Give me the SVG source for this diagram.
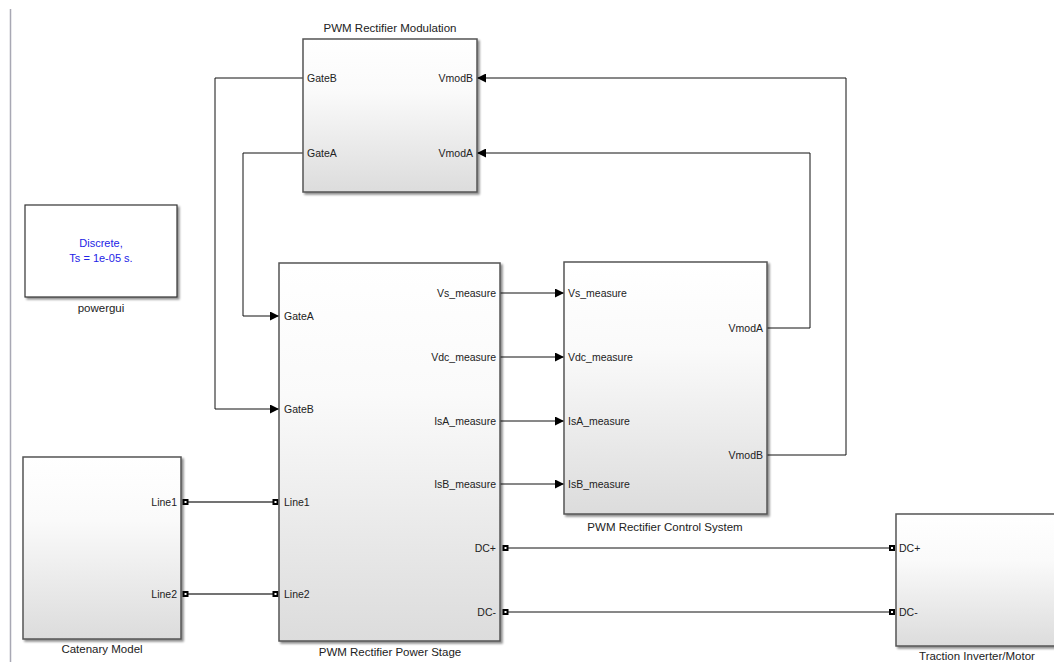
<svg xmlns="http://www.w3.org/2000/svg" width="1054" height="662" viewBox="0 0 1054 662">
  <defs>
    <linearGradient id="blockFill" x1="0" y1="0" x2="0" y2="1">
      <stop offset="0" stop-color="#ffffff"/>
      <stop offset="0.35" stop-color="#fafafa"/>
      <stop offset="1" stop-color="#dcdcdc"/>
    </linearGradient>
    <filter id="shadow" x="-5%" y="-5%" width="115%" height="115%">
      <feOffset in="SourceAlpha" dx="2" dy="2" result="o"/>
      <feGaussianBlur in="o" stdDeviation="0.8" result="b"/>
      <feComponentTransfer in="b" result="s"><feFuncA type="linear" slope="0.45"/></feComponentTransfer>
      <feMerge><feMergeNode in="s"/><feMergeNode in="SourceGraphic"/></feMerge>
    </filter>
    <marker id="arrow" viewBox="0 0 10 10" refX="10" refY="5" markerWidth="9" markerHeight="9" markerUnits="userSpaceOnUse" orient="auto">
      <path d="M0,0 L10,5 L0,10 z" fill="#000"/>
    </marker>
  </defs>
  <style>
    .blk { fill: url(#blockFill); stroke: #555; stroke-width: 1.5; filter: url(#shadow); }
    .gui { fill: #fff; stroke: #333; stroke-width: 1.2; filter: url(#shadow); }
    .port { font-family: "Liberation Sans", Arial, sans-serif; font-size: 10.5px; fill: #222; }
    .name { font-family: "Liberation Sans", Arial, sans-serif; font-size: 11.5px; fill: #222; text-anchor: middle; }
    .sig { fill: none; stroke: #111; stroke-width: 1; }
    .phys { fill: none; stroke: #444; stroke-width: 1.3; }
    .cn { fill: #fff; stroke: #000; stroke-width: 2; }
  </style>

  <rect width="1054" height="662" fill="#fff"/>
  <line x1="10.5" y1="9" x2="10.5" y2="662" stroke="#a8a8b4" stroke-width="1.5"/>

  <g id="connectors">
    <!-- modulation gates to power stage -->
    <polyline class="sig" points="303,78 215,78 215,409 279,409" marker-end="url(#arrow)"/>
    <polyline class="sig" points="303,153 243,153 243,316 279,316" marker-end="url(#arrow)"/>
    <!-- control outputs back to modulation -->
    <polyline class="sig" points="767,328 810,328 810,153 477,153" marker-end="url(#arrow)"/>
    <polyline class="sig" points="767,455 846,455 846,78 477,78" marker-end="url(#arrow)"/>
    <!-- measurements -->
    <line class="sig" x1="500" y1="293" x2="564" y2="293" marker-end="url(#arrow)"/>
    <line class="sig" x1="500" y1="357" x2="564" y2="357" marker-end="url(#arrow)"/>
    <line class="sig" x1="500" y1="421" x2="564" y2="421" marker-end="url(#arrow)"/>
    <line class="sig" x1="500" y1="484" x2="564" y2="484" marker-end="url(#arrow)"/>
    <!-- physical lines -->
    <line class="phys" x1="186" y1="502" x2="275" y2="502"/>
    <line class="phys" x1="186" y1="594" x2="275" y2="594"/>
    <line class="sig" x1="505" y1="548" x2="891" y2="548"/>
    <line class="sig" x1="505" y1="612" x2="891" y2="612"/>
    <!-- connection ports -->
    <rect class="cn" x="183.5" y="500" width="4" height="4"/>
    <rect class="cn" x="183.5" y="592" width="4" height="4"/>
    <rect class="cn" x="273.5" y="500" width="4" height="4"/>
    <rect class="cn" x="273.5" y="592" width="4" height="4"/>
    <rect class="cn" x="503.5" y="546" width="4" height="4"/>
    <rect class="cn" x="503.5" y="610" width="4" height="4"/>
    <rect class="cn" x="890" y="546" width="4" height="4"/>
    <rect class="cn" x="890" y="610" width="4" height="4"/>
  </g>

  <g id="modulation">
    <rect class="blk" x="303" y="39" width="174" height="153"/>
    <text class="name" x="390" y="32">PWM Rectifier Modulation</text>
    <text class="port" x="307" y="82">GateB</text>
    <text class="port" x="307" y="157">GateA</text>
    <text class="port" x="473" y="82" text-anchor="end">VmodB</text>
    <text class="port" x="473" y="157" text-anchor="end">VmodA</text>
  </g>

  <g id="powergui">
    <rect class="gui" x="25" y="205" width="152" height="92"/>
    <text x="101" y="247" font-family="Liberation Sans, Arial, sans-serif" font-size="11" fill="#2323e6" text-anchor="middle">Discrete,</text>
    <text x="101" y="262" font-family="Liberation Sans, Arial, sans-serif" font-size="11" fill="#2323e6" text-anchor="middle">Ts = 1e-05 s.</text>
    <text class="name" x="101" y="312">powergui</text>
  </g>

  <g id="power-stage">
    <rect class="blk" x="279" y="263" width="221" height="378"/>
    <text class="name" x="390" y="656">PWM Rectifier Power Stage</text>
    <text class="port" x="284" y="320">GateA</text>
    <text class="port" x="284" y="413">GateB</text>
    <text class="port" x="284" y="506">Line1</text>
    <text class="port" x="284" y="598">Line2</text>
    <text class="port" x="496" y="297" text-anchor="end">Vs_measure</text>
    <text class="port" x="496" y="361" text-anchor="end">Vdc_measure</text>
    <text class="port" x="496" y="425" text-anchor="end">IsA_measure</text>
    <text class="port" x="496" y="488" text-anchor="end">IsB_measure</text>
    <text class="port" x="496" y="552" text-anchor="end">DC+</text>
    <text class="port" x="496" y="616" text-anchor="end">DC-</text>
  </g>

  <g id="control-system">
    <rect class="blk" x="564" y="262" width="203" height="252"/>
    <text class="name" x="665" y="531">PWM Rectifier Control System</text>
    <text class="port" x="568" y="297">Vs_measure</text>
    <text class="port" x="568" y="361">Vdc_measure</text>
    <text class="port" x="568" y="425">IsA_measure</text>
    <text class="port" x="568" y="488">IsB_measure</text>
    <text class="port" x="763" y="332" text-anchor="end">VmodA</text>
    <text class="port" x="763" y="459" text-anchor="end">VmodB</text>
  </g>

  <g id="catenary">
    <rect class="blk" x="23" y="457" width="158" height="182"/>
    <text class="name" x="102" y="653">Catenary Model</text>
    <text class="port" x="177" y="506" text-anchor="end">Line1</text>
    <text class="port" x="177" y="598" text-anchor="end">Line2</text>
  </g>

  <g id="traction">
    <rect class="blk" x="896" y="514" width="170" height="132"/>
    <text class="name" x="977" y="660">Traction Inverter/Motor</text>
    <text class="port" x="899" y="552">DC+</text>
    <text class="port" x="899" y="616">DC-</text>
  </g>
</svg>
